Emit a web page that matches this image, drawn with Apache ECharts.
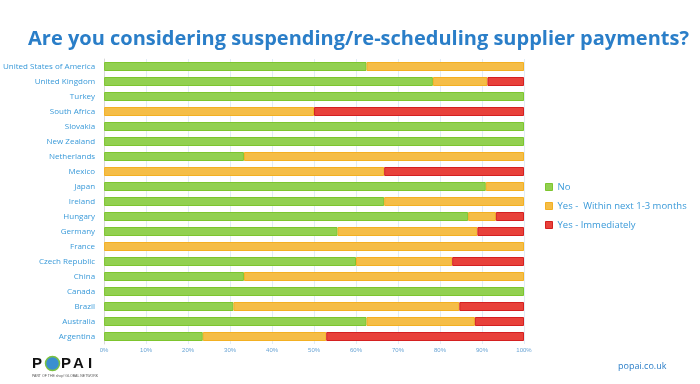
<!DOCTYPE html>
<html><head><meta charset="utf-8">
<script src="https://cdn.jsdelivr.net/npm/echarts@6/dist/echarts.min.js"></script>
<style>html,body{margin:0;padding:0;background:#fff}#c{width:700px;height:384px}</style>
</head><body><div id="c"></div>
<script>
var categories = ["United States of America","United Kingdom","Turkey","South Africa","Slovakia","New Zealand","Netherlands","Mexico","Japan","Ireland","Hungary","Germany","France","Czech Republic","China","Canada","Brazil","Australia","Argentina"];
var seriesNames = ["No","Yes -  Within next 1-3 months","Yes - Immediately"];
var noVals        = [62.5, 78.3, 100, 0,  100, 100, 33.3, 0,    90.9, 66.7, 86.7, 55.6, 0,   60.0, 33.3, 100, 30.8, 62.5, 23.5];
var within3Vals   = [37.5, 13.0, 0,   50, 0,   0,   66.7, 66.7, 9.1,  33.3, 6.6,  33.3, 100, 22.9, 66.7, 0,   53.8, 25.8, 29.4];
var immediateVals = [0,    8.7,  0,   50, 0,   0,   0,    33.3, 0,    0,    6.7,  11.1, 0,   17.1, 0,    0,   15.4, 11.7, 47.1];
var xTicks = [0,10,20,30,40,50,60,70,80,90,100];

var chart = echarts.init(document.getElementById('c'));
var fills = ['#92d050','#f5bd47','#e8413a'];
var borders = ['#7dc52e','#f3b022','#d42020'];
var vals = [noVals, within3Vals, immediateVals];
chart.setOption({
  animation:false,
  title:{text:'Are you considering suspending/re-scheduling supplier payments?',left:23,top:24,
    textStyle:{fontFamily:'Open Sans',fontWeight:'bold',fontSize:20,color:'#2a7ec8'}},
  grid:{left:101,right:176,top:59,bottom:40},
  legend:{orient:'vertical',left:540,top:177,itemWidth:7,itemHeight:7,itemGap:9,icon:'rect',
    textStyle:{color:'#3a9ad9',fontSize:9.5,fontFamily:'Open Sans'},
    data:seriesNames.map(function(n,i){return {name:n,itemStyle:{color:fills[i],borderColor:borders[i],borderWidth:1}};})},
  xAxis:{type:'value',min:0,max:100,interval:10,
    axisLine:{show:false},axisTick:{show:false},
    splitLine:{lineStyle:{color:'#e1ecf6',width:1}},
    axisLabel:{formatter:'{value}%',fontSize:6,color:'#6aa4d4',margin:3}},
  yAxis:{type:'category',inverse:true,data:categories,
    axisLine:{lineStyle:{color:'#d9d9d9'}},axisTick:{show:false},
    axisLabel:{fontSize:8,color:'#3a9ad9',margin:9,fontFamily:'Open Sans'}},
  series:seriesNames.map(function(n,i){return {name:n,type:'bar',stack:'s',barWidth:9,
    itemStyle:{color:fills[i],borderColor:borders[i],borderWidth:1},
    data:vals[i].map(function(v){return v===0?null:v;})};}),
  graphic:[
    {type:'text',left:32,top:356,style:{text:'P',font:'bold 15px Liberation Sans',fill:'#111'}},
    {type:'circle',shape:{cx:52.5,cy:363.5,r:7},style:{fill:'#3a8fd0',stroke:'#7cc242',lineWidth:1.5}},
    {type:'text',left:61,top:356,style:{text:'P',font:'bold 15px Liberation Sans',fill:'#111'}},
    {type:'text',left:73,top:356,style:{text:'A',font:'bold 15px Liberation Sans',fill:'#111'}},
    {type:'text',left:88,top:356,style:{text:'I',font:'bold 15px Liberation Sans',fill:'#111'}},
    {type:'text',left:32,top:374,style:{text:'PART OF THE shop! GLOBAL NETWORK',font:'3.5px Liberation Sans',fill:'#555'}},
    {type:'text',left:618,top:362,style:{text:'popai.co.uk',font:'9px Open Sans',fill:'#2a7ec8'}}
  ]
});
</script></body></html>
